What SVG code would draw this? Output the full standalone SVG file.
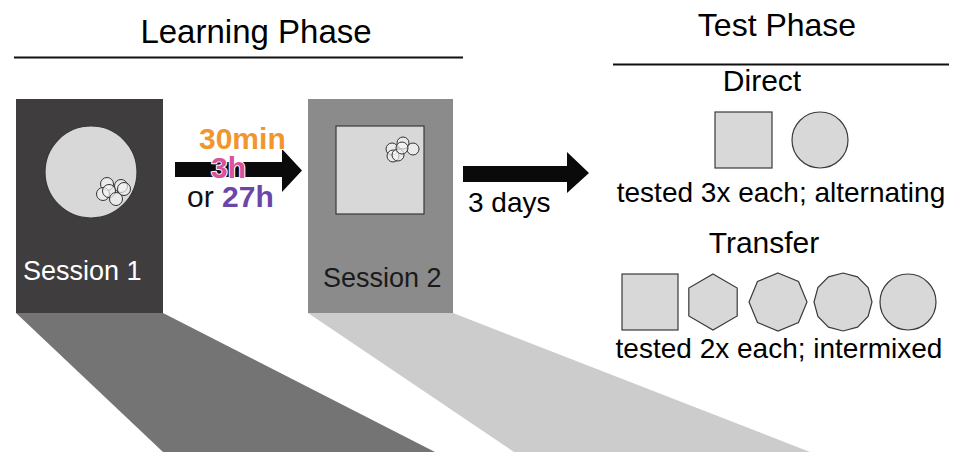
<svg xmlns="http://www.w3.org/2000/svg" width="965" height="452" viewBox="0 0 965 452">
<style>
text{font-family:"Liberation Sans",Arial,sans-serif}
.shape{fill:#d8d8d8;stroke:#3a3a3a;stroke-width:1.2}
.dot{fill:#f4f4f4;fill-opacity:0.65;stroke:#333;stroke-width:1}
.lbl{font-size:28px;fill:#000}
.title{fill:#000}
.hl{font-size:30px;font-weight:bold;stroke:#fff;stroke-width:2;paint-order:stroke;stroke-linejoin:round}
</style>
<rect width="965" height="452" fill="#fff"/>
<g id="headers">
<text class="title" x="256" y="43" font-size="33" text-anchor="middle">Learning Phase</text>
<line x1="14" y1="57.5" x2="463" y2="57.5" stroke="#111" stroke-width="2"/>
<text class="title" x="777" y="36" font-size="32" text-anchor="middle">Test Phase</text>
<line x1="613" y1="64.5" x2="949" y2="64.5" stroke="#111" stroke-width="2"/>
</g>
<g id="shadows">
<polygon points="16,313 163,313 435,452 163,452" fill="#747474"/>
<polygon points="308,313 453,313 810,452 514,452" fill="#cccccc"/>
</g>
<g id="session1">
<rect x="16" y="99" width="147" height="214" fill="#3f3d3e"/>
<circle cx="91" cy="172" r="46" class="shape"/>
<circle cx="107" cy="184" r="6.5" class="dot"/>
<circle cx="121" cy="186" r="6.5" class="dot"/>
<circle cx="124" cy="189" r="6.5" class="dot"/>
<circle cx="103" cy="194" r="6.5" class="dot"/>
<circle cx="109" cy="191" r="6.5" class="dot"/>
<circle cx="116" cy="199" r="6.5" class="dot"/>
<text x="23" y="280" font-size="27" fill="#fff">Session 1</text>
</g>
<g id="session2">
<rect x="308" y="99" width="145" height="214" fill="#8c8b8b"/>
<rect x="336" y="126" width="88" height="88" class="shape"/>
<circle cx="403" cy="143" r="6" class="dot"/>
<circle cx="392" cy="149" r="6" class="dot"/>
<circle cx="413" cy="149" r="6" class="dot"/>
<circle cx="393" cy="156" r="6" class="dot"/>
<circle cx="398" cy="155" r="6" class="dot"/>
<circle cx="402" cy="148" r="6" class="dot"/>
<text x="323" y="287" font-size="27" fill="#1a1a1a">Session 2</text>
</g>
<g id="connectors">
<polygon points="175,162 282,162 282,149 302,170.5 282,192 282,177 175,177" fill="#0a0a0a"/>
<polygon points="463,166 567,166 567,152 589,173 567,193 567,182 463,182" fill="#0a0a0a"/>
</g>
<g id="delay-labels">
<text class="hl" x="199" y="149" fill="#f0962e">30min</text>
<text class="hl" x="211" y="178" fill="#d9529b">3h</text>
<text x="187" y="207" font-size="30" fill="#111">or <tspan class="hl" fill="#6a46a8">27h</tspan></text>
<text class="lbl" x="468" y="212">3 days</text>
</g>
<g id="direct">
<text x="762" y="91" font-size="30" text-anchor="middle">Direct</text>
<rect x="715" y="112" width="57" height="56" class="shape"/>
<circle cx="820" cy="140" r="28" class="shape"/>
<text class="lbl" x="781" y="202" text-anchor="middle">tested 3x each; alternating</text>
</g>
<g id="transfer">
<text x="764" y="253" font-size="30" text-anchor="middle">Transfer</text>
<rect x="622" y="274" width="56" height="56" class="shape"/>
<polygon class="shape" points="713,274 737.2,288 737.2,316 713,330 688.8,316 688.8,288"/>
<polygon class="shape" points="778,273 798.5,281.5 807,302 798.5,322.5 778,331 757.5,322.5 749,302 757.5,281.5"/>
<polygon class="shape" points="843,273 857.5,276.9 868.1,287.5 872,302 868.1,316.5 857.5,327.1 843,331 828.5,327.1 817.9,316.5 814,302 817.9,287.5 828.5,276.9"/>
<circle cx="908" cy="302" r="28" class="shape"/>
<text class="lbl" x="779" y="358" text-anchor="middle">tested 2x each; intermixed</text>
</g>
</svg>
